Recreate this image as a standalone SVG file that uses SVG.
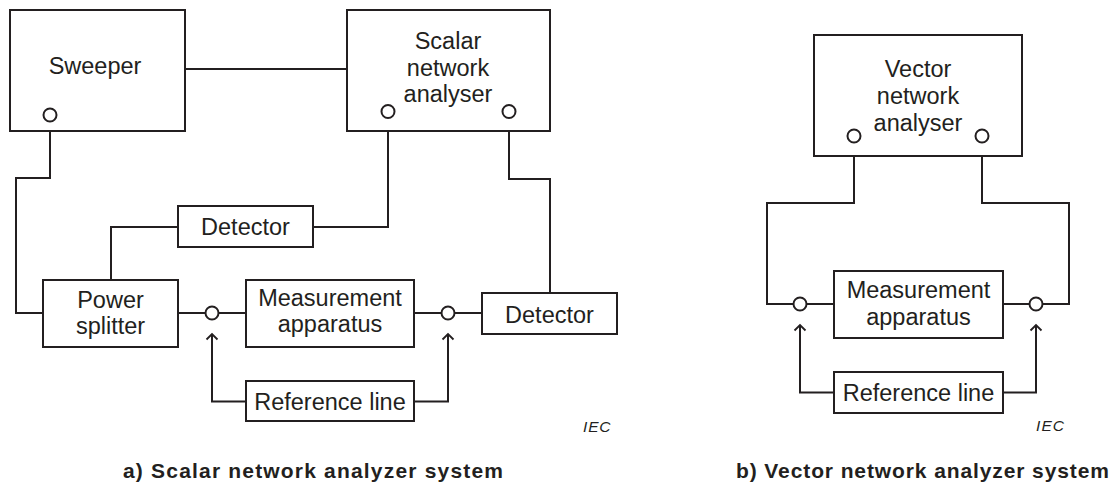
<svg xmlns="http://www.w3.org/2000/svg" width="1117" height="486" viewBox="0 0 1117 486">
<defs>
<style>
.box{fill:#fff;stroke:#231f20;stroke-width:2}
.ln{fill:none;stroke:#231f20;stroke-width:2}
.ah{fill:none;stroke:#231f20;stroke-width:1.8}
.port{fill:#fff;stroke:#231f20;stroke-width:2}
.t{font-family:"Liberation Sans",Arial,sans-serif;font-size:23.5px;fill:#231f20;text-anchor:middle}
.cap{font-family:"Liberation Sans",Arial,sans-serif;font-size:21px;font-weight:bold;fill:#231f20}
.iec{font-family:"Liberation Sans",Arial,sans-serif;font-size:15.5px;font-style:italic;fill:#231f20}
</style>
</defs>
<rect width="1117" height="486" fill="#fff"/>
<g id="connectors">
<line class="ln" x1="185" y1="69" x2="347" y2="69"/>
<polyline class="ln" points="50,121.5 50,178 16,178 16,313 43,313"/>
<polyline class="ln" points="388,118 388,227 313,227"/>
<polyline class="ln" points="178,227 111,227 111,280"/>
<polyline class="ln" points="509,118 509,179 550,179 550,293"/>
<line class="ln" x1="178" y1="313" x2="205" y2="313"/>
<line class="ln" x1="218.5" y1="313" x2="246" y2="313"/>
<line class="ln" x1="414" y1="313" x2="441.5" y2="313"/>
<line class="ln" x1="455" y1="313" x2="482" y2="313"/>
<polyline class="ln" points="246,401.5 212,401.5 212,334"/>
<path class="ah" d="M206.5,339.5 L212,334 L217.5,339.5"/>
<polyline class="ln" points="414,401.5 448,401.5 448,334"/>
<path class="ah" d="M442.5,339.5 L448,334 L453.5,339.5"/>
<polyline class="ln" points="854,142.5 854,203 767,203 767,304 793.5,304"/>
<polyline class="ln" points="982,142.5 982,203 1069,203 1069,304 1042.5,304"/>
<line class="ln" x1="806.5" y1="304" x2="834" y2="304"/>
<line class="ln" x1="1003" y1="304" x2="1029.5" y2="304"/>
<polyline class="ln" points="834,392.5 800,392.5 800,325"/>
<path class="ah" d="M794.5,330.5 L800,325 L805.5,330.5"/>
<polyline class="ln" points="1003,392.5 1036,392.5 1036,325"/>
<path class="ah" d="M1030.5,330.5 L1036,325 L1041.5,330.5"/>
</g>
<g id="sweeper">
<rect class="box" x="10" y="10" width="175" height="121"/>
<text class="t" x="95" y="74">Sweeper</text>
<circle class="port" cx="50" cy="115" r="6.5"/>
</g>
<g id="scalar-analyser">
<rect class="box" x="347" y="10" width="203" height="121"/>
<text class="t" x="448" y="49">Scalar</text>
<text class="t" x="448" y="76">network</text>
<text class="t" x="448" y="102">analyser</text>
<circle class="port" cx="388" cy="111.5" r="6.5"/>
<circle class="port" cx="509" cy="111.5" r="6.5"/>
</g>
<g id="detector-1">
<rect class="box" x="178" y="206" width="135" height="41"/>
<text class="t" x="245.5" y="235">Detector</text>
</g>
<g id="power-splitter">
<rect class="box" x="43" y="280" width="135" height="67"/>
<text class="t" x="110.5" y="307.5">Power</text>
<text class="t" x="110.5" y="334">splitter</text>
</g>
<g id="port-a1"><circle class="port" cx="212" cy="313" r="6.5"/></g>
<g id="measurement-a">
<rect class="box" x="246" y="280" width="168" height="67"/>
<text class="t" x="330" y="306">Measurement</text>
<text class="t" x="330" y="332">apparatus</text>
</g>
<g id="port-a2"><circle class="port" cx="448" cy="313" r="6.5"/></g>
<g id="detector-2">
<rect class="box" x="482" y="293" width="135" height="41"/>
<text class="t" x="549.5" y="322.5">Detector</text>
</g>
<g id="reference-a">
<rect class="box" x="246" y="381" width="168" height="40"/>
<text class="t" x="330" y="410">Reference line</text>
</g>
<g id="vector-analyser">
<rect class="box" x="814" y="35" width="208" height="121"/>
<text class="t" x="918" y="77">Vector</text>
<text class="t" x="918" y="104">network</text>
<text class="t" x="918" y="131">analyser</text>
<circle class="port" cx="854" cy="136" r="6.5"/>
<circle class="port" cx="982" cy="136" r="6.5"/>
</g>
<g id="port-b1"><circle class="port" cx="800" cy="304" r="6.5"/></g>
<g id="measurement-b">
<rect class="box" x="834" y="271" width="169" height="67"/>
<text class="t" x="918.5" y="298">Measurement</text>
<text class="t" x="918.5" y="324.5">apparatus</text>
</g>
<g id="port-b2"><circle class="port" cx="1036" cy="304" r="6.5"/></g>
<g id="reference-b">
<rect class="box" x="834" y="372" width="169" height="41"/>
<text class="t" x="918.5" y="400.5">Reference line</text>
</g>
<text class="iec" x="583" y="432" textLength="27.5" lengthAdjust="spacing">IEC</text>
<text class="iec" x="1036" y="431" textLength="28" lengthAdjust="spacing">IEC</text>
<text class="cap" x="123" y="478" textLength="380" lengthAdjust="spacing">a) Scalar network analyzer system</text>
<text class="cap" x="736" y="478" textLength="373" lengthAdjust="spacing">b) Vector network analyzer system</text>
</svg>
